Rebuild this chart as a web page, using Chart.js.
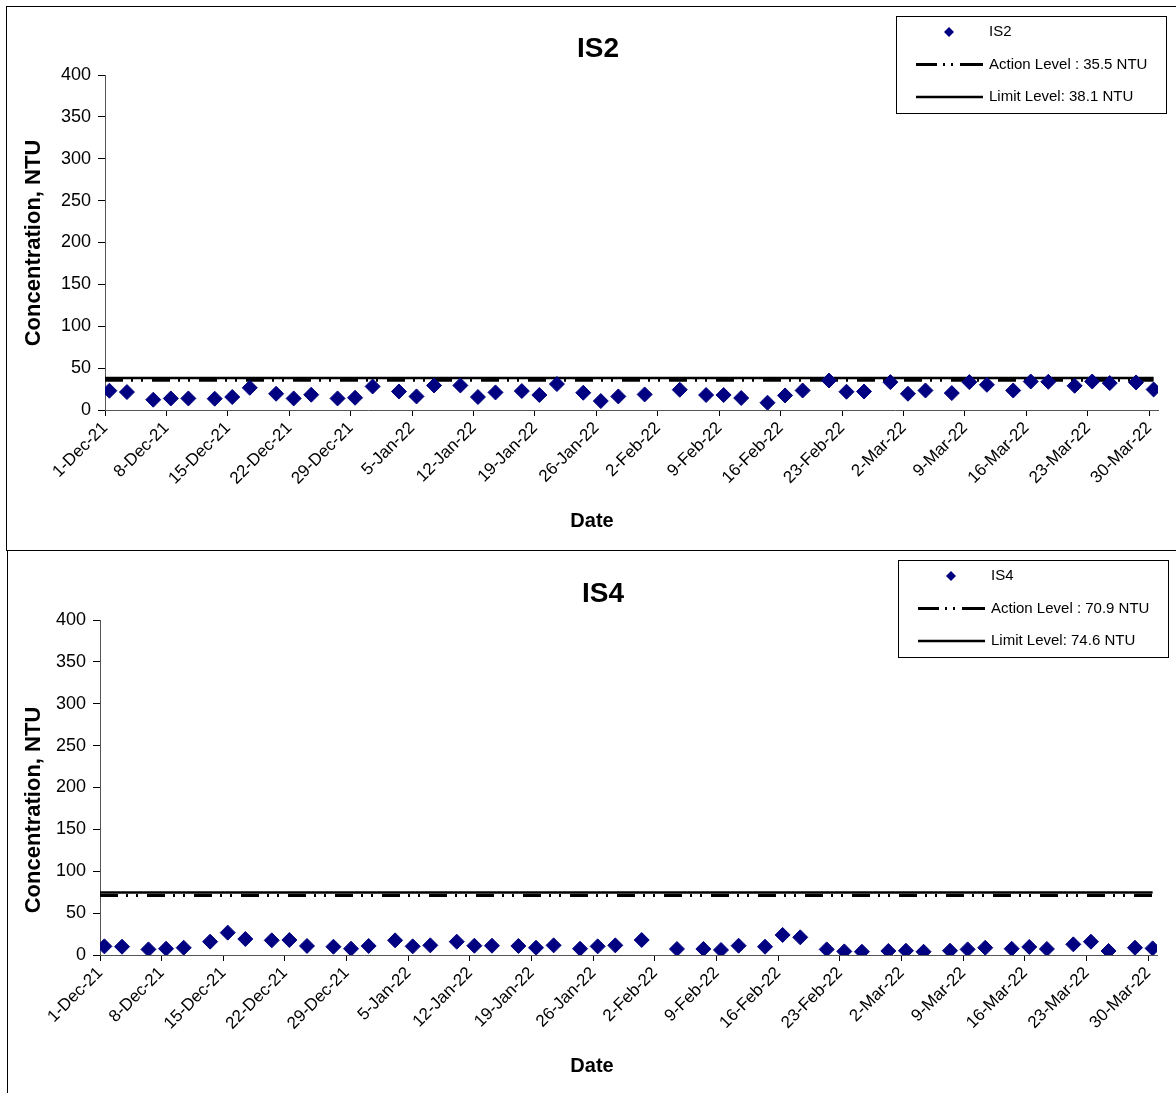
<!DOCTYPE html>
<html>
<head>
<meta charset="utf-8">
<title>IS2 / IS4 Turbidity</title>
<script src="https://cdn.jsdelivr.net/npm/chart.js@4/dist/chart.umd.min.js"></script>
<style>
  html, body { margin: 0; padding: 0; background: #fff; }
  body { position: relative; width: 1176px; height: 1093px; overflow: hidden; }
  .frame { position: absolute; border: 1px solid #000; box-sizing: border-box; }
  #frame1 { left: 6px; top: 6px; width: 1190px; height: 545px; }
  #frame2 { left: 7px; top: 550px; width: 1190px; height: 560px; }
  canvas { position: absolute; left: 0; }
  #c1 { top: 0; }
  #c2 { top: 550px; }
</style>
</head>
<body>
<div class="frame" id="frame1"></div>
<div class="frame" id="frame2"></div>
<canvas id="c1" width="1176" height="550"></canvas>
<canvas id="c2" width="1176" height="543"></canvas>
<script>
// Sampling dates (Mon / Wed / Fri)
const sampleDates = [
  '2021-12-01','2021-12-03','2021-12-06','2021-12-08','2021-12-10','2021-12-13','2021-12-15',
  '2021-12-17','2021-12-20','2021-12-22','2021-12-24','2021-12-27','2021-12-29','2021-12-31',
  '2022-01-03','2022-01-05','2022-01-07','2022-01-10','2022-01-12','2022-01-14','2022-01-17',
  '2022-01-19','2022-01-21','2022-01-24','2022-01-26','2022-01-28','2022-01-31',
  '2022-02-04','2022-02-07','2022-02-09','2022-02-11','2022-02-14','2022-02-16','2022-02-18',
  '2022-02-21','2022-02-23','2022-02-25','2022-02-28',
  '2022-03-02','2022-03-04','2022-03-07','2022-03-09','2022-03-11','2022-03-14','2022-03-16',
  '2022-03-18','2022-03-21','2022-03-23','2022-03-25','2022-03-28','2022-03-30'
];

// Turbidity, NTU
const is2Values = [
  23.0, 21.4, 12.3, 13.8, 13.8, 13.5, 15.5, 26.5, 19.4, 13.8, 18.2, 13.8, 14.6, 28.1,
  22.1, 16.2, 29.3, 29.3, 15.5, 21.0, 22.6, 17.9, 31.0, 20.6, 10.7, 16.2, 18.6,
  24.2, 17.9, 17.9, 14.3, 8.7, 17.4, 23.3, 35.2, 21.8, 22.1, 33.3,
  19.4, 23.3, 20.2, 33.3, 30.1, 23.3, 34.0, 33.7, 28.9, 34.0, 32.1, 32.9, 24.5
];
const is4Values = [
  10.3, 9.9, 6.7, 7.5, 8.7, 15.9, 26.7, 19.1, 17.5, 17.9, 10.8, 9.9, 7.5, 10.8,
  17.5, 10.3, 11.5, 15.9, 11.1, 11.1, 10.8, 8.7, 11.5, 7.5, 10.3, 11.5, 17.9,
  7.2, 7.2, 6.0, 11.1, 9.9, 23.9, 21.1, 6.7, 4.3, 3.9, 4.8,
  5.1, 3.9, 5.1, 6.7, 8.7, 7.5, 9.6, 7.2, 12.7, 15.9, 4.8, 8.7, 7.9
];

const is2Action = 35.5;
const is2Limit = 38.1;
const is4Action = 70.9;
const is4Limit = 74.6;

const xTickLabels = [
  '1-Dec-21','8-Dec-21','15-Dec-21','22-Dec-21','29-Dec-21','5-Jan-22','12-Jan-22',
  '19-Jan-22','26-Jan-22','2-Feb-22','9-Feb-22','16-Feb-22','23-Feb-22','2-Mar-22',
  '9-Mar-22','16-Mar-22','23-Mar-22','30-Mar-22'
];
const yMin = 0, yMax = 400, yStep = 50;

// ---- date helpers: x is measured in days from the axis origin ----
const ORIGIN = Date.UTC(2021, 11, 1);
const DAY = 86400000;
const SAMPLE_TIME = 0.5;            // samples taken around midday
const AXIS_END_DAYS = 120;          // axis runs to 31-Mar-22
const MONTHS = {Jan:0,Feb:1,Mar:2,Apr:3,May:4,Jun:5,Jul:6,Aug:7,Sep:8,Oct:9,Nov:10,Dec:11};

function isoToDays(s) {
  const [y, m, d] = s.split('-').map(Number);
  return (Date.UTC(y, m - 1, d) - ORIGIN) / DAY;
}
function labelToDays(s) {
  const [d, mon, yy] = s.split('-');
  return (Date.UTC(2000 + Number(yy), MONTHS[mon], Number(d)) - ORIGIN) / DAY;
}
const tickValues = xTickLabels.map(labelToDays);

const FONT = '"Liberation Sans", Arial, sans-serif';
const NAVY = '#000080';
const ACTION_DASH = [18, 8, 2, 8, 2, 9];

// Titles, axis titles and the boxed legend
const decor = {
  id: 'decor',
  afterDraw(chart, args, o) {
    const ctx = chart.ctx;
    ctx.save();
    ctx.fillStyle = '#000';
    ctx.textBaseline = 'middle';

    ctx.font = 'bold 28px ' + FONT;
    ctx.textAlign = 'center';
    ctx.fillText(o.title, o.titleX, o.titleY);

    ctx.font = 'bold 20px ' + FONT;
    ctx.fillText('Date', o.xTitleX, o.xTitleY);

    ctx.save();
    ctx.translate(o.yTitleX, o.yTitleY);
    ctx.rotate(-Math.PI / 2);
    ctx.font = 'bold 22px ' + FONT;
    ctx.fillText('Concentration, NTU', 0, 0);
    ctx.restore();

    // legend
    const L = o.legend;
    ctx.fillStyle = '#fff';
    ctx.fillRect(L.x, L.y, L.w, L.h);
    ctx.strokeStyle = '#000';
    ctx.lineWidth = 1;
    ctx.strokeRect(L.x + 0.5, L.y + 0.5, L.w, L.h);

    const rows = [L.y + 16, L.y + 48.5, L.y + 81];
    const sx0 = L.x + 20, sx1 = L.x + 87, tx = L.x + 93;

    // marker
    ctx.fillStyle = NAVY;
    ctx.beginPath();
    const cx = L.x + 53, cy = rows[0], r = 5;
    ctx.moveTo(cx, cy - r); ctx.lineTo(cx + r, cy); ctx.lineTo(cx, cy + r); ctx.lineTo(cx - r, cy);
    ctx.closePath(); ctx.fill();

    // action level sample
    ctx.strokeStyle = '#000';
    ctx.lineWidth = 3;
    ctx.beginPath();
    ctx.moveTo(sx0, rows[1]); ctx.lineTo(sx0 + 21, rows[1]);
    ctx.moveTo(sx0 + 27, rows[1]); ctx.lineTo(sx0 + 29, rows[1]);
    ctx.moveTo(sx0 + 35, rows[1]); ctx.lineTo(sx0 + 37, rows[1]);
    ctx.moveTo(sx0 + 44, rows[1]); ctx.lineTo(sx1, rows[1]);
    ctx.stroke();

    // limit level sample
    ctx.lineWidth = 2.5;
    ctx.beginPath();
    ctx.moveTo(sx0, rows[2]); ctx.lineTo(sx1, rows[2]);
    ctx.stroke();

    ctx.fillStyle = '#000';
    ctx.font = '15px ' + FONT;
    ctx.textAlign = 'left';
    L.items.forEach((t, i) => ctx.fillText(t, tx, rows[i]));
    ctx.restore();
  }
};

function buildChart(canvasId, name, values, action, limit, g) {
  const pts = sampleDates.map((d, i) => ({x: isoToDays(d) + SAMPLE_TIME, y: values[i]}));
  const lastX = pts[pts.length - 1].x;
  const canvas = document.getElementById(canvasId);
  const W = canvas.width, H = canvas.height;

  return new Chart(canvas, {
    type: 'scatter',
    data: {
      datasets: [
        {
          label: name,
          data: pts,
          pointStyle: 'rectRot',
          pointRadius: 7.5,
          backgroundColor: NAVY,
          borderColor: NAVY,
          borderWidth: 1
        },
        {
          label: 'Action Level : ' + action + ' NTU',
          data: [{x: 0, y: action}, {x: lastX, y: action}],
          showLine: true,
          pointRadius: 0,
          borderColor: '#000',
          borderWidth: 3,
          borderDash: ACTION_DASH,
          borderCapStyle: 'butt'
        },
        {
          label: 'Limit Level: ' + limit + ' NTU',
          data: [{x: 0, y: limit}, {x: lastX, y: limit}],
          showLine: true,
          pointRadius: 0,
          borderColor: '#000',
          borderWidth: 2.5
        }
      ]
    },
    options: {
      responsive: false,
      animation: false,
      events: [],
      layout: {
        padding: {left: 0, top: g.plotTop, right: W - g.plotRight, bottom: 0}
      },
      scales: {
        x: {
          type: 'linear',
          min: 0,
          max: AXIS_END_DAYS,
          afterBuildTicks: (s) => { s.ticks = tickValues.map(v => ({value: v})); },
          afterFit: (s) => { s.height = H - g.plotBottom; },
          ticks: {
            autoSkip: false,
            minRotation: 45,
            maxRotation: 45,
            padding: 2,
            color: '#000',
            font: {family: FONT, size: 17},
            callback: (v, i) => xTickLabels[i]
          },
          grid: {drawOnChartArea: false, drawTicks: true, tickLength: 6, color: '#000'},
          border: {display: true, color: '#555', width: 1}
        },
        y: {
          type: 'linear',
          min: yMin,
          max: yMax,
          afterFit: (s) => { s.width = g.axisLeft; },
          ticks: {
            stepSize: yStep,
            padding: 7,
            color: '#000',
            font: {family: FONT, size: 18}
          },
          grid: {drawOnChartArea: false, drawTicks: true, tickLength: 7, color: '#000'},
          border: {display: true, color: '#555', width: 1}
        }
      },
      plugins: {
        legend: {display: false},
        tooltip: {enabled: false},
        decor: {
          title: name,
          titleX: g.titleX, titleY: g.titleY,
          xTitleX: 592, xTitleY: g.xTitleY,
          yTitleX: 34, yTitleY: g.yTitleY,
          legend: {
            x: g.legX, y: g.legY, w: 270, h: 97,
            items: [name, 'Action Level : ' + action + ' NTU', 'Limit Level: ' + limit + ' NTU']
          }
        }
      }
    },
    plugins: [decor]
  });
}

buildChart('c1', 'IS2', is2Values, is2Action, is2Limit, {
  axisLeft: 105, plotTop: 75, plotBottom: 410, plotRight: 1158,
  titleX: 598, titleY: 49, xTitleY: 521, yTitleY: 243,
  legX: 896, legY: 16
});
buildChart('c2', 'IS4', is4Values, is4Action, is4Limit, {
  axisLeft: 100, plotTop: 70, plotBottom: 405, plotRight: 1157,
  titleX: 603, titleY: 44, xTitleY: 516, yTitleY: 260,
  legX: 898, legY: 10
});
</script>
</body>
</html>
